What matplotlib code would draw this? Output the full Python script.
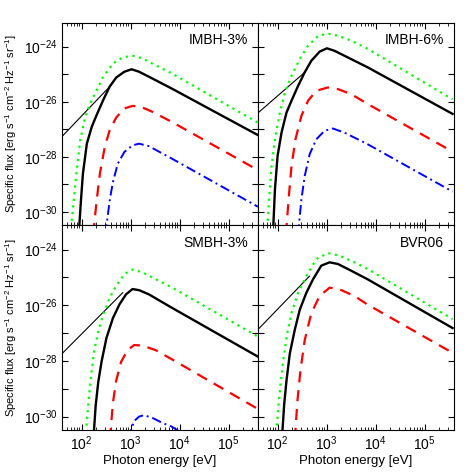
import numpy as np
import matplotlib
matplotlib.use("Agg")
import matplotlib.pyplot as plt
from matplotlib.ticker import FixedLocator, FuncFormatter, NullLocator, NullFormatter

plt.rcParams['font.family'] = ['Liberation Sans', 'DejaVu Sans']
plt.rcParams['mathtext.default'] = 'regular'

# values, in log10(E/eV) and log10(flux)
# ---- IMBH-3% ----
imbh3_green_e = [1.77, 1.787, 1.84, 1.893, 1.973, 2.073, 2.173, 2.307, 2.44, 2.64, 2.84, 3.04, 3.24, 3.44, 3.84, 5.60]
imbh3_green_f = [-30.8, -30.52, -29.58, -28.61, -27.39, -26.55, -26.06, -25.58, -25.09, -24.61, -24.39, -24.33, -24.42, -24.61, -24.97, -26.76]
imbh3_black_e = [1.94, 1.953, 1.987, 2.027, 2.107, 2.207, 2.307, 2.44, 2.573, 2.707, 2.873, 3.02, 3.173, 3.373, 3.84, 5.60]
imbh3_black_f = [-30.8, -30.52, -29.58, -28.61, -27.52, -26.91, -26.48, -25.94, -25.45, -25.12, -24.91, -24.82, -24.91, -25.09, -25.52, -27.21]
imbh3_thin_e = [1.60, 2.573]
imbh3_thin_f = [-27.26, -25.45]
imbh3_red_e = [2.24, 2.253, 2.307, 2.373, 2.473, 2.573, 2.707, 2.873, 3.04, 3.207, 3.44, 3.84, 5.60]
imbh3_red_f = [-30.8, -30.52, -29.58, -28.61, -27.64, -27.03, -26.57, -26.24, -26.15, -26.18, -26.36, -26.73, -28.48]
imbh3_blue_e = [2.49, 2.507, 2.573, 2.64, 2.74, 2.873, 3.04, 3.173, 3.373, 3.84, 5.60]
imbh3_blue_f = [-30.8, -30.52, -29.58, -28.91, -28.24, -27.82, -27.58, -27.52, -27.61, -28.06, -29.81]

# ---- IMBH-6% ----
imbh6_green_e = [1.78, 1.791, 1.831, 1.878, 1.946, 2.047, 2.149, 2.284, 2.453, 2.622, 2.824, 3.007, 3.23, 3.50, 3.838, 5.571]
imbh6_green_f = [-30.8, -30.53, -29.42, -28.33, -27.36, -26.39, -25.66, -25.05, -24.45, -23.96, -23.62, -23.52, -23.60, -23.78, -24.08, -25.91]
imbh6_black_e = [1.90, 1.912, 1.946, 2.00, 2.08, 2.182, 2.284, 2.419, 2.554, 2.689, 2.858, 3.007, 3.162, 3.365, 3.838, 5.571]
imbh6_black_f = [-30.8, -30.53, -29.18, -27.96, -27.12, -26.39, -25.96, -25.42, -24.93, -24.51, -24.18, -24.06, -24.15, -24.33, -24.75, -26.44]
imbh6_thin_e = [1.59, 2.554]
imbh6_thin_f = [-26.42, -24.93]
imbh6_red_e = [2.17, 2.182, 2.23, 2.284, 2.365, 2.486, 2.622, 2.791, 3.027, 3.23, 3.50, 3.838, 5.571]
imbh6_red_f = [-30.8, -30.53, -29.42, -28.33, -27.36, -26.51, -25.96, -25.60, -25.48, -25.54, -25.72, -26.08, -27.81]
imbh6_blue_e = [2.42, 2.432, 2.486, 2.554, 2.655, 2.791, 2.959, 3.128, 3.365, 3.838, 5.571]
imbh6_blue_f = [-30.8, -30.53, -29.54, -28.69, -27.90, -27.36, -27.05, -26.97, -27.12, -27.54, -29.26]

# ---- SMBH-3% ----
smbh3_green_e = [2.08, 2.093, 2.14, 2.187, 2.253, 2.34, 2.44, 2.573, 2.707, 2.873, 3.04, 3.24, 3.507, 3.84, 5.602]
smbh3_green_f = [-30.8, -30.49, -29.49, -28.64, -27.67, -26.94, -26.33, -25.73, -25.30, -24.88, -24.72, -24.82, -25.06, -25.36, -27.13]
smbh3_black_e = [2.24, 2.253, 2.287, 2.34, 2.407, 2.507, 2.64, 2.773, 2.907, 3.04, 3.173, 3.373, 3.84, 5.602]
smbh3_black_f = [-30.8, -30.49, -29.61, -28.76, -28.03, -27.18, -26.46, -25.97, -25.61, -25.42, -25.46, -25.61, -26.09, -27.85]
smbh3_thin_e = [1.60, 2.84]
smbh3_thin_f = [-27.74, -25.55]
smbh3_red_e = [2.58, 2.593, 2.64, 2.707, 2.807, 2.94, 3.073, 3.24, 3.507, 3.84, 5.602]
smbh3_red_f = [-30.8, -30.49, -29.49, -28.70, -28.03, -27.61, -27.43, -27.45, -27.61, -27.94, -29.73]
smbh3_blue_e = [2.98, 3.007, 3.073, 3.173, 3.273, 3.44, 3.64, 3.84, 3.98, 4.10]
smbh3_blue_f = [-30.8, -30.49, -30.16, -30.00, -29.95, -30.04, -30.22, -30.36, -30.52, -30.70]

# ---- BVR06 ----
bvr_green_e = [1.97, 1.98, 2.014, 2.061, 2.115, 2.196, 2.284, 2.419, 2.588, 2.791, 3.027, 3.264, 3.568, 3.838, 5.571]
bvr_green_f = [-30.8, -30.46, -29.67, -28.82, -27.98, -27.01, -26.28, -25.55, -24.95, -24.34, -24.13, -24.22, -24.46, -24.70, -26.50]
bvr_black_e = [2.09, 2.101, 2.135, 2.182, 2.25, 2.351, 2.453, 2.588, 2.723, 2.892, 3.061, 3.23, 3.50, 3.838, 5.571]
bvr_black_f = [-30.8, -30.46, -29.55, -28.70, -27.73, -26.88, -26.16, -25.55, -25.07, -24.58, -24.46, -24.52, -24.76, -25.07, -26.82]
bvr_thin_e = [1.59, 2.65]
bvr_thin_f = [-26.89, -24.96]
bvr_red_e = [2.355, 2.365, 2.405, 2.466, 2.554, 2.689, 2.858, 3.061, 3.264, 3.568, 3.838, 5.571]
bvr_red_f = [-30.8, -30.46, -29.43, -28.34, -27.25, -26.28, -25.67, -25.37, -25.43, -25.67, -25.98, -27.71]

panels = [
    ("IMBH-3%", imbh3_green_e, imbh3_green_f, imbh3_black_e, imbh3_black_f, imbh3_thin_e, imbh3_thin_f,
     imbh3_red_e, imbh3_red_f, imbh3_blue_e, imbh3_blue_f),
    ("IMBH-6%", imbh6_green_e, imbh6_green_f, imbh6_black_e, imbh6_black_f, imbh6_thin_e, imbh6_thin_f,
     imbh6_red_e, imbh6_red_f, imbh6_blue_e, imbh6_blue_f),
    ("SMBH-3%", smbh3_green_e, smbh3_green_f, smbh3_black_e, smbh3_black_f, smbh3_thin_e, smbh3_thin_f,
     smbh3_red_e, smbh3_red_f, smbh3_blue_e, smbh3_blue_f),
    ("BVR06", bvr_green_e, bvr_green_f, bvr_black_e, bvr_black_f, bvr_thin_e, bvr_thin_f,
     bvr_red_e, bvr_red_f, None, None),
]

# tick positions
x_major = [1e2, 1e3, 1e4, 1e5]
x_minor = [m * 10.0 ** d for d in range(1, 6) for m in range(2, 10) if 40 <= m * 10.0 ** d <= 4e5]
y_major = [10.0 ** e for e in range(-30, -23)]

fig = plt.figure(figsize=(4.74, 4.74), dpi=100)

# axes boxes in figure fractions
L, W = 0.131, 0.4135
boxes = [
    [L, 0.5247, W, 0.4274],
    [L + W, 0.5247, W, 0.4274],
    [L, 0.0928, W, 0.4319],
    [L + W, 0.0928, W, 0.4319],
]

def yfmt(v, pos):
    e = int(round(np.log10(v)))
    if e % 2 == 0:
        return r'$10^{%d}$' % e
    return ''

def xfmt(v, pos):
    e = int(round(np.log10(v)))
    return r'$10^{%d}$' % e

for i, p in enumerate(panels):
    name, ge, gf, be, bf, te, tf, re, rf, ue, uf = p
    ax = fig.add_axes(boxes[i])
    p10 = lambda a: 10.0 ** np.array(a)
    ax.plot(p10(te), p10(tf), color='black', lw=0.8)
    ax.plot(p10(ge), p10(gf), color='#00ff00', lw=1.6, ls=(0, (1, 2)))
    ax.plot(p10(re), p10(rf), color='#ff0000', lw=1.6, ls=(0, (5, 3.5)))
    if ue is not None:
        ax.plot(p10(ue), p10(uf), color='#0000ff', lw=1.4, ls=(0, (5, 2, 1, 2)))
    ax.plot(p10(be), p10(bf), color='black', lw=1.7)

    ax.set_xscale('log')
    ax.set_yscale('log')
    ax.set_xlim(40, 4e5)
    ax.set_ylim(3.3e-31, 7.4e-24)

    ax.xaxis.set_major_locator(FixedLocator(x_major))
    ax.xaxis.set_minor_locator(FixedLocator(x_minor))
    ax.yaxis.set_major_locator(FixedLocator(y_major))
    ax.yaxis.set_minor_locator(NullLocator())
    ax.tick_params(which='both', direction='in', top=True, right=True, labelsize=10)
    ax.tick_params(which='major', length=4, width=0.8)
    ax.tick_params(which='minor', length=2, width=0.6)

    if i in (0, 2):
        ax.yaxis.set_major_formatter(FuncFormatter(yfmt))
        ax.set_ylabel(r'Specific flux [erg s$^{-1}$ cm$^{-2}$ Hz$^{-1}$ sr$^{-1}$]', fontsize=8, labelpad=3)
    else:
        ax.yaxis.set_major_formatter(NullFormatter())
    if i in (2, 3):
        ax.xaxis.set_major_formatter(FuncFormatter(xfmt))
        ax.set_xlabel('Photon energy [eV]', fontsize=9.5, labelpad=1)
    else:
        ax.xaxis.set_major_formatter(NullFormatter())
    ax.xaxis.set_minor_formatter(NullFormatter())

    ax.text(0.95, 0.95, name, transform=ax.transAxes, ha='right', va='top', fontsize=10)

fig.savefig('out.png', dpi=100)
